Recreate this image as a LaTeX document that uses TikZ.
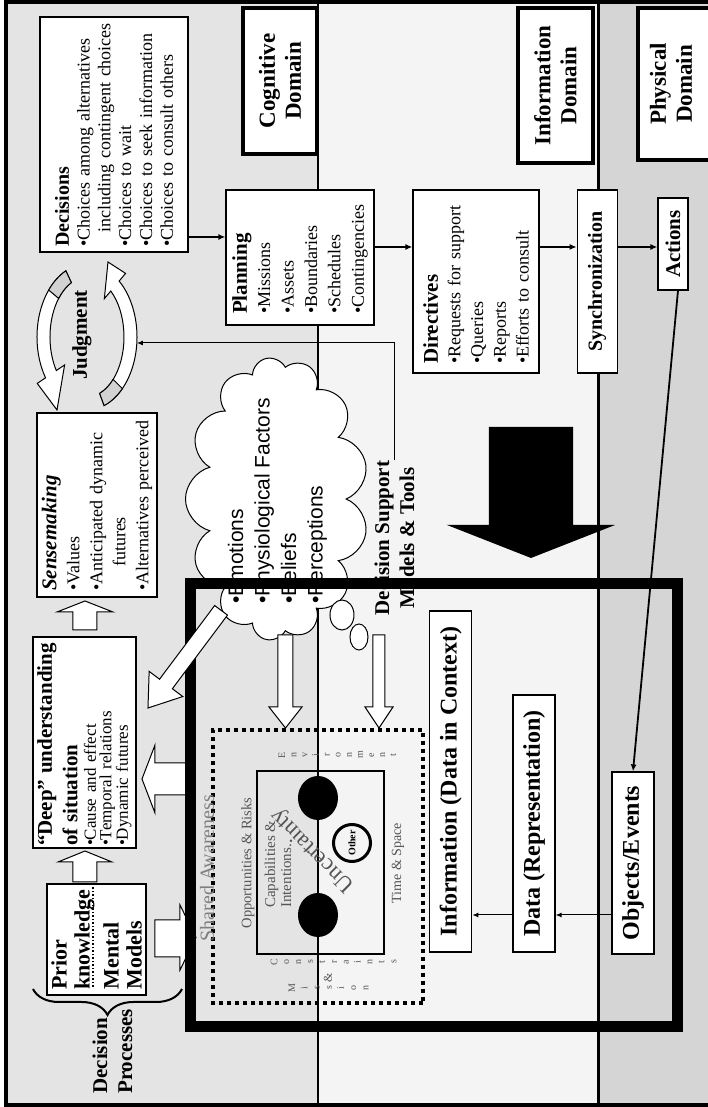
\documentclass[tikz,border=0pt]{standalone}
\usepackage{fontspec}
\setmainfont{Liberation Serif}
\setsansfont{Liberation Sans}
\usepackage{tikz}
\usetikzlibrary{positioning,arrows.meta,shapes.symbols,decorations.pathreplacing}
\definecolor{cogbg}{HTML}{E4E4E4}
\definecolor{infobg}{HTML}{F4F4F4}
\definecolor{physbg}{HTML}{D5D5D5}
\definecolor{tailgray}{HTML}{D2D2D2}
\definecolor{labelgray}{HTML}{555555}

\begin{document}
\begin{tikzpicture}[x=1pt, y=1pt, rotate=90, transform shape,
  box/.style={draw, fill=white, line width=1.2pt, align=left, inner sep=0pt},
  domainbox/.style={draw, fill=white, line width=3.5pt, align=center, inner sep=0pt, font=\bfseries\fontsize{23}{26}\selectfont},
  bigbox/.style={box, align=center, font=\bfseries\fontsize{24}{24}\selectfont},
  hollow/.style={draw, fill=white, line width=1pt},
  arrow/.style={-{Latex[length=7pt,width=6pt]}, line width=1.8pt},
  thinarrow/.style={-{Latex[length=6pt,width=5pt]}, line width=1pt},
  graytext/.style={text=labelgray, inner sep=0pt},
  stacked/.style={graytext, align=center, font=\fontsize{10}{11.5}\selectfont}
]
\useasboundingbox (0,0) rectangle (1107,708);
\fill[white] (0,0) rectangle (1107,708);
\fill[cogbg] (0,390) rectangle (1107,701.5);
\fill[infobg] (0,110) rectangle (1107,390);
\fill[physbg] (0,0) rectangle (1107,110);
\draw[line width=2pt] (0,390) -- (1107,390);
\draw[line width=3pt] (0,110) -- (1107,110);
\draw[line width=4pt] (2,0) -- (2,701.5) -- (1105,701.5) -- (1105,0);

% domains
\node[domainbox, minimum width=146, minimum height=74] (cogdom) at (1026,428) {Cognitive\\Domain};
\node[domainbox, minimum width=155, minimum height=75] (infodom) at (1021.5,152.5) {Information\\Domain};
\draw[line width=3.5pt, fill=white] (947,-15) rectangle (1099,70);
\node[domainbox, draw=none, fill=none] (physdom) at (1023,37) {Physical\\Domain};

% command chain
\node[box, minimum width=235, minimum height=148, text width=225, font=\fontsize{18}{20.8}\selectfont] (decisions) at (972.5,594)
  {{\bfseries\fontsize{20}{20.8}\selectfont Decisions}\\
   \textbullet Choices among alternatives\\
   \hspace*{14pt}including contingent choices\\
   \textbullet Choices to wait\\
   \textbullet Choices to seek information\\
   \textbullet Choices to consult others};
\node[box, minimum width=135, minimum height=148, text width=113, font=\fontsize{18}{23.4}\selectfont] (planning) at (849.5,408)
  {{\bfseries\fontsize{21}{23.4}\selectfont Planning}\\
   \textbullet Missions\\ \textbullet Assets\\ \textbullet Boundaries\\ \textbullet Schedules\\ \textbullet Contingencies};
\node[box, minimum width=183, minimum height=126, text width=165, font=\fontsize{18}{22.7}\selectfont] (directives) at (825.5,232)
  {{\bfseries\fontsize{21}{22.7}\selectfont Directives}\\
   \textbullet Requests for support\\ \textbullet Queries\\ \textbullet Reports\\ \textbullet Efforts to consult};
\node[box, align=center, minimum width=183, minimum height=40, font=\bfseries\fontsize{20}{20}\selectfont, below=37pt of directives] (sync) {Synchronization};
\node[box, align=center, minimum width=92, minimum height=30, font=\bfseries\fontsize{21}{21}\selectfont] (actions) at (863,35) {Actions};

\coordinate (dp) at (870,0);
\coordinate (pd) at (860,0);
\draw[arrow] (dp |- decisions.south) -- (dp |- planning.north);
\draw[arrow] (pd |- planning.south) -- (pd |- directives.north);
\draw[arrow] (pd |- directives.south) -- (pd |- sync.north);
\draw[arrow] (pd |- sync.south) -- (pd |- actions.north);

% decision processes
\node[box, minimum width=184, minimum height=120, text width=172, font=\fontsize{18}{23}\selectfont] (sense) at (602,611)
  {{\bfseries\itshape\fontsize{21}{23}\selectfont Sensemaking}\\
   \textbullet Values\\ \textbullet Anticipated dynamic\\ \hspace*{24pt}futures\\ \textbullet Alternatives perceived};
\node[box, minimum width=211, minimum height=103, text width=207, font=\fontsize{17}{15.5}\selectfont] (deep) at (364.5,623.5)
  {{\bfseries\fontsize{21}{21}\selectfont ``Deep'' understanding\\[5pt] of situation}\\[3pt]
   \textbullet Cause and effect\\ \textbullet Temporal relations\\ \textbullet Dynamic futures};
\node[box, minimum width=111, minimum height=99, text width=100, font=\bfseries\fontsize{22}{23}\selectfont] (prior) at (167.5,611.5)
  {Prior\\knowledge\\[6pt]Mental\\Models};
\draw[dotted, line width=1.5pt] (120,615) -- (220,615);
\node[anchor=west, align=left, inner sep=0pt, font=\bfseries\fontsize{21}{25}\selectfont] (process) at (13,595.5) {Decision\\Processes};
\draw[decorate, decoration={brace, amplitude=26pt}, line width=2pt] (118,526) -- (118,675);

\node[font=\bfseries\fontsize{21}{21}\selectfont] (judgment) at (772,626) {Judgment};
\begin{scope}[shift={(770,621)}, line width=1pt]
  \filldraw[fill=white] (25:73 and 50) arc[start angle=25, end angle=124, x radius=73, y radius=50]
    -- (124:83 and 60) -- (-73,30) -- (124:50 and 27) -- (124:60 and 37)
    arc[start angle=124, end angle=25, x radius=60, y radius=37] -- cycle;
  \filldraw[fill=tailgray] (25:73 and 50) arc[start angle=25, end angle=50, x radius=73, y radius=50]
    -- (50:60 and 37) arc[start angle=50, end angle=25, x radius=60, y radius=37] -- cycle;
  \filldraw[fill=white] (200:73 and 50) arc[start angle=200, end angle=320, x radius=73, y radius=50]
    -- (320:83 and 60) -- (75,-21) -- (320:50 and 27) -- (320:60 and 37)
    arc[start angle=320, end angle=200, x radius=60, y radius=37] -- cycle;
  \filldraw[fill=tailgray] (200:73 and 50) arc[start angle=200, end angle=225, x radius=73, y radius=50]
    -- (225:60 and 37) arc[start angle=225, end angle=200, x radius=60, y radius=37] -- cycle;
\end{scope}

\draw[hollow] (225,611) -- (245,611) -- (245,596) -- (256,623) -- (245,650) -- (245,635) -- (225,635) -- cycle;
\draw[hollow] (477,611) -- (495,611) -- (495,595) -- (506,623) -- (495,651) -- (495,635) -- (477,635) -- cycle;
\draw[hollow] (150,553) -- (150,528) -- (137,528) -- (169.5,512) -- (202,528) -- (187,528) -- (187,553) -- cycle;
\draw[hollow] (312,518) -- (312,553) -- (294,553) -- (328,566) -- (362,553) -- (344,553) -- (344,518) -- cycle;

\fill (680,135) -- (582,135) -- (582,93) -- (549,177) -- (582,261) -- (582,219) -- (680,219) -- cycle;

% shared awareness
\draw[line width=4pt, dash pattern=on 4pt off 4pt] (104,285) rectangle (377,495);
\draw[line width=1.2pt] (153,324) rectangle (336,451);
\fill (309,390) ellipse [x radius=22, y radius=20];
\fill (192,390) ellipse [x radius=22, y radius=20];
\node[circle, draw, line width=3pt, minimum size=37pt, inner sep=0pt, font=\bfseries\fontsize{10}{10}\selectfont] (other) at (264,356) {Other};
\node[graytext, font=\fontsize{20}{20}\selectfont, text=gray] (shared) at (239,501) {Shared Awareness};
\node[graytext, font=\fontsize{14.5}{16}\selectfont] (opps) at (244,460) {Opportunities \& Risks};
\node[graytext, font=\fontsize{14}{16}\selectfont] (timespace) at (244,310) {Time \& Space};
\node[graytext, anchor=west, align=left, font=\fontsize{15}{16}\selectfont] (capab) at (199,430) {Capabilities \&\\Intentions.};
\node[graytext, rotate=45, font=\fontsize{23}{23}\selectfont] (uncert) at (257,395) {Uncertainty};
\node[stacked, font=\fontsize{10}{11.1}\selectfont] (environ) at (352,370.5) {E\\n\\v\\i\\r\\o\\n\\m\\e\\n\\t};
\node[stacked, font=\fontsize{10}{11.9}\selectfont] (constr) at (145,374.5) {C\\o\\n\\s\\t\\r\\a\\i\\n\\t\\s};
\node[stacked, font=\fontsize{10}{12.2}\selectfont] (mission) at (119,379.5) {M\\i\\s\\s\\i\\o\\n};
\node[graytext, font=\fontsize{12}{12}\selectfont] (amp) at (129,380) {\&};

% data flow
\node[bigbox, minimum width=182, minimum height=42] (objects) at (244,75) {Objects/Events};
\node[bigbox, minimum width=257, minimum height=42] (data) at (283.5,174) {Data (Representation)};
\node[bigbox, minimum width=341, minimum height=42, above=40pt of data.north west, anchor=south west] (info) {Information (Data in Context)};
\coordinate (ev) at (192,0);
\draw[thinarrow] (ev |- objects.north) -- (ev |- data.south);
\draw[thinarrow] (ev |- data.north) -- (ev |- info.south);
\draw[arrow] ([yshift=-5pt]actions.west) -- (objects.east);

% factors
\node[cloud, draw, fill=white, line width=1pt, cloud puffs=13, aspect=1.55, minimum width=283pt, minimum height=183pt, inner sep=0pt] (cloud) at (608,431) {};
\draw[fill=white, line width=1pt] (492,366) ellipse [x radius=15, y radius=12];
\draw[fill=white, line width=1pt] (470,349) ellipse [x radius=13, y radius=9];
\node[anchor=west, align=left, inner sep=0pt, font=\sffamily\fontsize{21}{26.5}\selectfont] (factors) at (503,430.5)
  {\textbullet Emotions\\ \textbullet Physiological Factors\\ \textbullet Beliefs\\ \textbullet Perceptions};
\node[align=center, inner sep=0pt, font=\bfseries\fontsize{21}{25}\selectfont] (support) at (569,313.5) {Decision Support\\Models \& Tools};
\coordinate (jring) at (764,571);
\draw[thinarrow] (support.east) -| (jring);
\draw[hollow] (472,415) -- (400,415) -- (400,406) -- (379,422.5) -- (400,439) -- (400,430) -- (472,430) -- cycle;
\draw[hollow] (472,323) -- (400,323) -- (400,315) -- (379,329) -- (400,343) -- (400,335) -- (472,335) -- cycle;

\draw[line width=11pt] (80.5,30.5) rectangle (523.5,517.5);
\draw[hollow, shift={(399,560)}, rotate=-36.8] (0,0) -- (30,21) -- (30,8) -- (122,8) -- (122,-8) -- (30,-8) -- (30,-21) -- cycle;
\end{tikzpicture}
\end{document}
